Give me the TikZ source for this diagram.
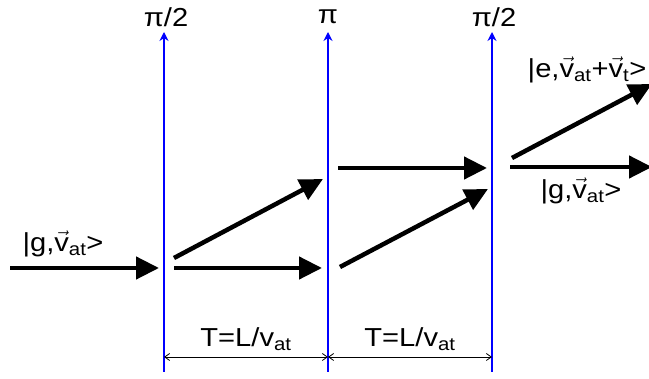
\documentclass[tikz,border=0pt]{standalone}
\usepackage{fontspec}
\usepackage{amsmath}
\setmainfont[FakeStretch=1.12]{Liberation Sans}
\usetikzlibrary{arrows.meta}
\newcommand\vv{\ensuremath{\vec{\text{v}}}}
\begin{document}
\begin{tikzpicture}[x=1pt,y=-1pt,
  bigarrow/.style={line width=4.5pt,-{Triangle[length=23pt,width=22pt]}},
  plate/.style={blue,line width=2.5pt,-{Stealth[length=9pt,width=9pt]}},
  dimarrow/.style={line width=0.8pt,{Straight Barb[length=5pt,width=7pt]}-{Straight Barb[length=5pt,width=7pt]}},
  lbl/.style={font=\fontsize{26}{30}\selectfont,inner sep=0pt}]
\useasboundingbox (0,0) rectangle (649,379);
% plates
\coordinate (p1b) at (164,372); \coordinate (p1t) at (164,32);
\coordinate (p2b) at (328,372); \coordinate (p2t) at (328,32);
\coordinate (p3b) at (492,372); \coordinate (p3t) at (492,32);
\draw[plate] (p1b) -- (p1t);
\draw[plate] (p2b) -- (p2t);
\draw[plate] (p3b) -- (p3t);
\node[lbl] (l1) at (166,17) {π/2};
\node[lbl] (l2) at (328,17) {π};
\node[lbl] (l3) at (494,17) {π/2};
% atom arrows
\coordinate (a0) at (10,268); \coordinate (a0e) at (159,268);
\coordinate (b1) at (174,258); \coordinate (b1e) at (323,179);
\coordinate (c1) at (174,268); \coordinate (c1e) at (322,268);
\coordinate (b2) at (338,168); \coordinate (b2e) at (487,168);
\coordinate (c2) at (340,267); \coordinate (c2e) at (488,189);
\coordinate (b3) at (512,158); \coordinate (b3e) at (652,84);
\coordinate (c3) at (510,167); \coordinate (c3e) at (652,167);
\draw[bigarrow] (a0) -- (a0e);
\draw[bigarrow] (b1) -- (b1e);
\draw[bigarrow] (c1) -- (c1e);
\draw[bigarrow] (b2) -- (b2e);
\draw[bigarrow] (c2) -- (c2e);
\draw[bigarrow] (b3) -- (b3e);
\draw[bigarrow] (c3) -- (c3e);
% state labels
\node[lbl] (s0) at (63,244) {|g,\vv$_{\text{at}}$>};
\node[lbl] (s1) at (587,70) {|e,\vv$_{\text{at}}$+\vv$_{\text{t}}$>};
\node[lbl] (s2) at (581,191) {|g,\vv$_{\text{at}}$>};
% time intervals
\coordinate (d1) at (164,357); \coordinate (d2) at (328,357); \coordinate (d3) at (492,357);
\draw[dimarrow] (d1) -- (d2);
\draw[dimarrow] (d2) -- (d3);
\node[lbl] (t1) at (246,339) {T=L/v$_{\text{at}}$};
\node[lbl] (t2) at (410,339) {T=L/v$_{\text{at}}$};
\end{tikzpicture}
\end{document}
